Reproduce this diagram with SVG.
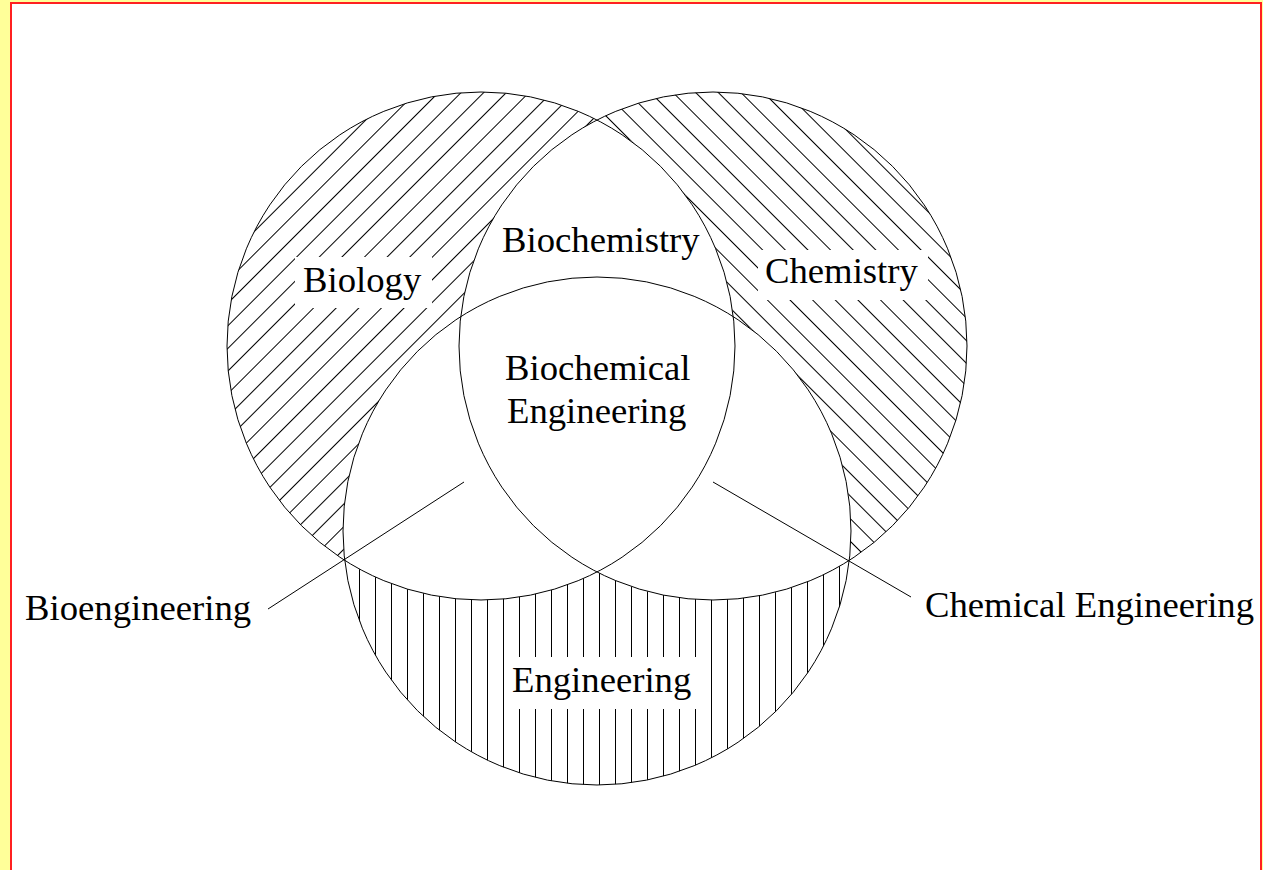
<svg xmlns="http://www.w3.org/2000/svg" width="1263" height="870" viewBox="0 0 1263 870">
  <style>
    .lbl { font-family: "Liberation Serif", "Times New Roman", serif; font-size: 36.7px; fill: #000; }
    .outline { fill: none; stroke: #000; stroke-width: 1; }
    .lead { stroke: #000; stroke-width: 1; fill: none; }
    .pad { fill: #fff; stroke: none; }
    .hatch { stroke: #000; stroke-width: 1; shape-rendering: crispEdges; }
  </style>
  <defs>
    <pattern id="hSlash" patternUnits="userSpaceOnUse" width="16" height="16" patternTransform="rotate(45)">
      <line class="hatch" x1="7" y1="-2" x2="7" y2="18"/>
    </pattern>
    <pattern id="hBack" patternUnits="userSpaceOnUse" width="16" height="16" patternTransform="rotate(-45)">
      <line class="hatch" x1="10" y1="-2" x2="10" y2="18"/>
    </pattern>
    <pattern id="hVert" patternUnits="userSpaceOnUse" width="16" height="16">
      <line class="hatch" x1="7.5" y1="-2" x2="7.5" y2="18"/>
    </pattern>
    <mask id="mBio" maskUnits="userSpaceOnUse" x="0" y="0" width="1263" height="870">
      <circle cx="481" cy="346" r="254" fill="#fff"/>
      <circle cx="713" cy="346" r="254" fill="#000"/>
      <circle cx="597" cy="531" r="254" fill="#000"/>
    </mask>
    <mask id="mChem" maskUnits="userSpaceOnUse" x="0" y="0" width="1263" height="870">
      <circle cx="713" cy="346" r="254" fill="#fff"/>
      <circle cx="481" cy="346" r="254" fill="#000"/>
      <circle cx="597" cy="531" r="254" fill="#000"/>
    </mask>
    <mask id="mEng" maskUnits="userSpaceOnUse" x="0" y="0" width="1263" height="870">
      <circle cx="597" cy="531" r="254" fill="#fff"/>
      <circle cx="481" cy="346" r="254" fill="#000"/>
      <circle cx="713" cy="346" r="254" fill="#000"/>
    </mask>
  </defs>

  <rect x="0" y="0" width="1263" height="870" fill="#ffff99"/>
  <rect x="11" y="3" width="1250" height="900" fill="#fff" stroke="#ff2020" stroke-width="2"/>

  <g id="biology">
    <rect x="0" y="0" width="1263" height="870" fill="url(#hSlash)" mask="url(#mBio)"/>
    <rect class="pad" x="295" y="257" width="137" height="51"/>
    <text class="lbl" x="303" y="292">Biology</text>
  </g>
  <g id="chemistry">
    <rect x="0" y="0" width="1263" height="870" fill="url(#hBack)" mask="url(#mChem)"/>
    <rect class="pad" x="758" y="250" width="170" height="50"/>
    <text class="lbl" x="765" y="283">Chemistry</text>
  </g>
  <g id="engineering">
    <rect x="0" y="0" width="1263" height="870" fill="url(#hVert)" mask="url(#mEng)"/>
    <rect class="pad" x="506" y="657" width="199" height="52"/>
    <text class="lbl" x="512" y="692">Engineering</text>
  </g>

  <g id="circles">
    <circle class="outline" cx="481" cy="346" r="254"/>
    <circle class="outline" cx="713" cy="346" r="254"/>
    <circle class="outline" cx="597" cy="531" r="254"/>
  </g>

  <g id="biochemistry">
    <text class="lbl" x="502" y="252">Biochemistry</text>
  </g>
  <g id="biochemical-engineering">
    <text class="lbl" x="505" y="380">Biochemical</text>
    <text class="lbl" x="507" y="423">Engineering</text>
  </g>
  <g id="bioengineering">
    <text class="lbl" x="25" y="620">Bioengineering</text>
  </g>
  <g id="chemical-engineering">
    <text class="lbl" x="925" y="617">Chemical Engineering</text>
  </g>

  <g id="connectors">
    <line class="lead" x1="464" y1="482" x2="268" y2="609"/>
    <line class="lead" x1="713" y1="482" x2="911" y2="597"/>
  </g>
</svg>
